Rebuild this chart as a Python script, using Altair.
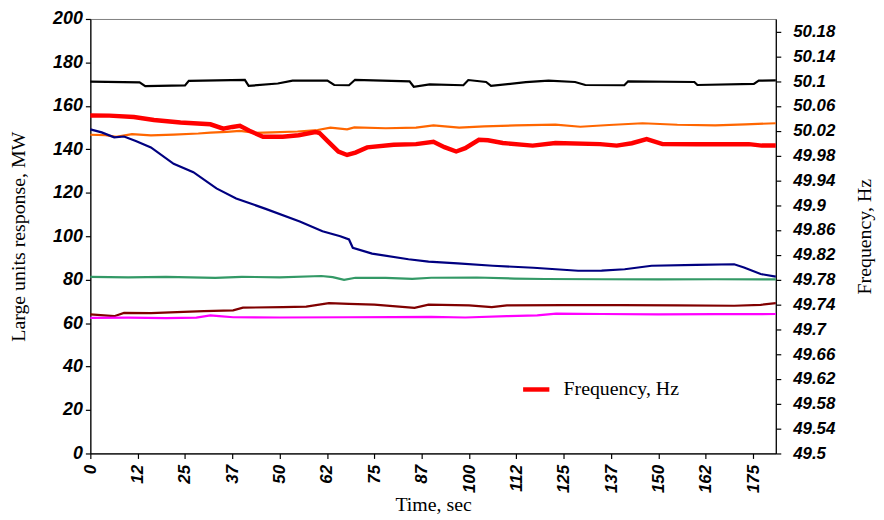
import altair as alt
import pandas as pd

# ---- data ----
black_t = [0, 13, 14.5, 25, 26, 40.8, 41.8, 49.5, 53.4, 62.6, 64.4, 68.3, 69.9, 84.3, 85.4, 89.6, 98.5, 99.8, 104.5, 105.8, 115, 121, 128, 130.7, 141, 142, 159.5, 160.3, 175.2, 176.5, 181]
black_v = [171.2, 170.8, 169.1, 169.4, 171.5, 172, 169.2, 170.3, 171.6, 171.6, 169.6, 169.5, 172, 171.3, 168.8, 169.9, 169.5, 171.9, 171, 169.2, 170.9, 171.6, 171, 169.6, 169.5, 171.3, 171, 169.6, 170.1, 171.6, 171.7]

orange_t = [0, 4, 6.8, 11, 16, 22, 28.5, 31.7, 36, 39.5, 43.7, 48, 54.7, 60, 63.4, 67.8, 69.7, 78, 86, 90.6, 97.4, 104, 112.3, 122.8, 129.4, 137, 145.8, 155, 165, 173, 181]
orange_v = [146.7, 146.5, 145.7, 147, 146.4, 146.8, 147.3, 147.7, 148, 148.5, 147.6, 147.8, 148.2, 148.9, 150, 149.2, 150.1, 149.7, 150, 151, 150, 150.6, 151, 151.4, 150.4, 151.2, 152, 151.3, 151, 151.5, 152]

blue_t = [0, 3, 6.3, 8.9, 12, 16, 22, 27.2, 33.3, 38.5, 46.3, 55.3, 61.3, 66, 68.3, 69.3, 74.4, 84, 89.3, 97, 106.3, 117, 128.8, 135, 141.1, 148.2, 160, 170, 172.6, 177, 181]
blue_v = [149.2, 147.8, 145.5, 145.9, 143.8, 140.9, 133.3, 129.5, 122, 117.4, 112.6, 106.8, 102.3, 100, 98.5, 94.7, 92, 89.4, 88.3, 87.5, 86.4, 85.5, 84.1, 84.2, 84.8, 86.4, 86.8, 87.1, 85.6, 82.6, 81.4]

green_t = [0, 10, 20, 33, 40, 50, 61, 64, 67, 70, 78, 85, 90, 102, 112, 120, 135, 150, 165, 181]
green_v = [81.3, 81.1, 81.3, 80.8, 81.3, 81.1, 81.7, 81.2, 79.9, 80.9, 80.8, 80.4, 80.9, 81, 80.5, 80.3, 80.2, 80.1, 80.2, 80.1]

dred_t = [0, 6.3, 8.9, 16, 24.6, 30, 37.7, 40.3, 50.8, 57, 63, 68.3, 75, 85.6, 89.3, 100, 106, 110, 125, 140, 155, 170, 177, 181]
dred_v = [64, 63.2, 64.7, 64.6, 65.2, 65.5, 65.9, 67.1, 67.4, 67.6, 69.2, 68.9, 68.5, 67, 68.5, 68.2, 67.4, 68.2, 68.3, 68.3, 68.2, 68, 68.4, 69.2]

mag_t = [0, 10, 20, 28, 31.7, 34, 37.7, 50, 68, 80, 90, 99, 110, 118, 123, 135, 150, 165, 181]
mag_v = [62.4, 62.5, 62.3, 62.5, 63.6, 63.2, 62.7, 62.6, 62.7, 62.8, 62.9, 62.6, 63.2, 63.6, 64.4, 64.2, 64, 64.1, 64.2]

freq_t = [0, 5, 11.5, 16.8, 23.8, 31.7, 35.1, 37.5, 39.5, 42, 45.6, 50.8, 55, 59.4, 60.5, 62.6, 65.5, 67.8, 70, 73.1, 80.1, 86, 90.6, 93.5, 96.6, 99, 102.6, 105, 108.9, 116.8, 122.8, 134.6, 139, 143, 146.9, 151.1, 160, 173.9, 177.3, 181]
freq_hz = [50.0446, 50.0443, 50.0422, 50.0373, 50.0331, 50.0303, 50.0233, 50.0261, 50.0278, 50.0198, 50.0103, 50.0103, 50.0128, 50.018, 50.0163, 50.0037, 49.9865, 49.9809, 49.9848, 49.9932, 49.9974, 49.9984, 50.0023, 49.9935, 49.9865, 49.9918, 50.0054, 50.0047, 50.0002, 49.996, 50.0002, 49.9984, 49.996, 49.9998, 50.0065, 49.9984, 49.9981, 49.9984, 49.996, 49.996]

series_names = ["black", "orange", "navy", "green", "darkred", "magenta"]
series_colors = ["#000000", "#FF6600", "#000080", "#339966", "#800000", "#FF00FF"]

x_ticks = [0, 12.5, 25, 37.5, 50, 62.5, 75, 87.5, 100, 112.5, 125, 137.5, 150, 162.5, 175]
left_ticks = [0, 20, 40, 60, 80, 100, 120, 140, 160, 180, 200]
right_ticks = [49.5, 49.54, 49.58, 49.62, 49.66, 49.7, 49.74, 49.78, 49.82, 49.86, 49.9, 49.94, 49.98, 50.02, 50.06, 50.1, 50.14, 50.18]

# ---- tables ----
rows = []
for name, ts, vs in zip(series_names,
                        [black_t, orange_t, blue_t, green_t, dred_t, mag_t],
                        [black_v, orange_v, blue_v, green_v, dred_v, mag_v]):
    for t, v in zip(ts, vs):
        rows.append({"series": name, "t": t, "v": v})
mw_df = pd.DataFrame(rows)
freq_df = pd.DataFrame({"t": freq_t, "f": freq_hz, "name": "Frequency, Hz"})

x_enc = alt.X(
    "t:Q",
    scale=alt.Scale(domain=[0, 181], nice=False),
    axis=alt.Axis(values=x_ticks, labelExpr="floor(datum.value)", labelAngle=270,
                  title="Time, sec", titlePadding=2, labelPadding=6),
)

mw = alt.Chart(mw_df).mark_line(strokeWidth=2.2).encode(
    x=x_enc,
    y=alt.Y("v:Q", scale=alt.Scale(domain=[0, 200], nice=False),
            axis=alt.Axis(values=left_ticks, orient="left", labelFontSize=18, labelPadding=3,
                          title="Large units response, MW", titlePadding=24)),
    color=alt.Color("series:N", scale=alt.Scale(domain=series_names, range=series_colors), legend=None),
    order=alt.Order("t:Q"),
)

fr = alt.Chart(freq_df).mark_line(strokeWidth=4.5).encode(
    x=x_enc,
    y=alt.Y("f:Q", scale=alt.Scale(domain=[49.5, 50.2], nice=False, zero=False),
            axis=alt.Axis(values=right_ticks, orient="right", format=".2~f", labelPadding=12,
                          title="Frequency, Hz", titleAngle=270, titlePadding=40)),
    stroke=alt.Stroke("name:N", scale=alt.Scale(domain=["Frequency, Hz"], range=["#FF0000"]),
                      legend=alt.Legend(title=None, orient="none", legendX=434, legendY=358,
                                        symbolType="stroke", symbolSize=700, symbolStrokeWidth=4.5,
                                        labelFont="Liberation Serif", labelFontSize=20,
                                        labelColor="black", labelOffset=12)),
    order=alt.Order("t:Q"),
)

chart = alt.layer(mw, fr).resolve_scale(y="independent").properties(
    width=691, height=438,
    autosize=alt.AutoSizeParams(type="none"),
    padding={"left": 83, "top": 9, "right": 101, "bottom": 65},
).configure_axis(
    grid=False,
    domainColor="black", domainWidth=1.2,
    tickColor="black", tickSize=5, tickWidth=1.2,
    labelFont="Liberation Sans", labelFontSize=17, labelFontStyle="italic",
    labelFontWeight="bold", labelColor="black",
    titleFont="Liberation Serif", titleFontSize=20, titleFontWeight="normal",
    titleColor="black",
).configure_view(stroke="#808080", strokeWidth=1)

chart.save("out.html", embed_options={"renderer": "svg", "actions": False})
